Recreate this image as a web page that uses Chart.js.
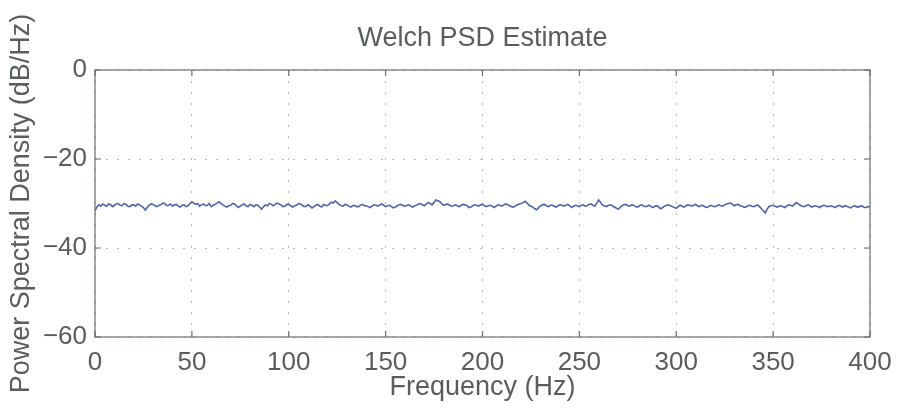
<!DOCTYPE html>
<html>
<head>
<meta charset="utf-8">
<title>Welch PSD Estimate</title>
<script src="https://cdn.jsdelivr.net/npm/chart.js@4/dist/chart.umd.min.js"></script>
<style>
  html, body { margin: 0; padding: 0; background: #ffffff; }
  #wrap { width: 899px; height: 408px; }
</style>
</head>
<body>
<div id="wrap"><canvas id="psdChart" width="899" height="408"></canvas></div>
<script>
/* data: one value per Hz, 0..400 */
const freqStep = 1;
const psdDb = [
  -31.6, -30.8, -30.3, -30.6, -30.1, -30.4, -30.6, -30.1, -30.2, -30.7, -30.4, -30.1, -30.0, -30.4, -30.5, -30.0, -30.2, -30.6, -30.7, -30.3,
  -30.3, -30.6, -30.1, -30.3, -30.6, -30.9, -31.5, -30.8, -30.4, -30.1, -30.2, -30.5, -30.7, -30.4, -30.3, -29.9, -30.0, -30.5, -30.4, -30.1,
  -30.6, -30.3, -30.2, -30.6, -30.8, -30.4, -30.3, -30.7, -30.5, -30.0, -29.6, -29.9, -30.2, -30.0, -30.6, -30.3, -30.1, -30.5, -30.4, -30.0,
  -30.7, -30.4, -30.2, -29.9, -29.6, -30.0, -30.3, -30.6, -30.8, -30.5, -30.4, -30.0, -30.1, -30.5, -30.9, -30.6, -30.3, -30.1, -30.5, -30.7,
  -30.2, -30.4, -30.7, -30.3, -30.4, -30.8, -31.3, -30.7, -30.3, -30.5, -30.0, -30.2, -30.5, -30.2, -29.9, -30.1, -30.3, -30.7, -30.6, -30.2,
  -30.2, -30.5, -30.8, -30.5, -30.4, -30.0, -30.1, -30.4, -30.7, -30.6, -30.3, -30.6, -31.0, -30.7, -30.4, -30.2, -30.6, -30.8, -30.2, -30.4,
  -30.5, -30.1, -29.7, -29.9, -29.4, -29.8, -30.2, -30.5, -30.6, -30.2, -30.3, -30.6, -30.8, -30.5, -30.4, -30.7, -30.7, -30.4, -30.2, -30.5,
  -30.5, -30.7, -30.9, -30.6, -30.3, -30.4, -30.6, -30.3, -30.1, -30.4, -30.7, -30.5, -30.4, -30.7, -31.0, -30.8, -30.5, -30.3, -30.2, -30.5,
  -30.6, -30.4, -30.3, -30.6, -30.8, -30.5, -30.4, -30.1, -30.0, -30.3, -30.5, -30.1, -29.8, -30.0, -30.3, -29.7, -29.2, -29.4, -29.6, -30.1,
  -30.4, -30.2, -30.1, -30.4, -30.6, -30.5, -30.3, -30.5, -30.7, -30.4, -30.2, -30.3, -30.5, -30.9, -30.8, -30.5, -30.3, -30.4, -30.6, -30.3,
  -30.2, -30.5, -30.7, -30.5, -30.4, -30.6, -30.9, -30.6, -30.3, -30.4, -30.6, -30.3, -30.1, -30.3, -30.5, -30.7, -30.8, -30.5, -30.3, -30.1,
  -30.0, -29.8, -29.5, -29.9, -30.4, -30.6, -30.8, -31.2, -31.4, -30.9, -30.5, -30.3, -30.2, -30.5, -30.7, -30.4, -30.4, -30.6, -30.8, -30.5,
  -30.3, -30.4, -30.6, -30.4, -30.2, -30.5, -30.9, -30.6, -30.4, -30.5, -30.7, -30.4, -30.3, -30.6, -30.5, -30.2, -30.1, -30.4, -30.6, -29.9,
  -29.2, -29.8, -30.4, -30.5, -30.7, -30.4, -30.3, -30.5, -30.8, -31.0, -31.3, -30.9, -30.5, -30.3, -30.2, -30.5, -30.6, -30.3, -30.4, -30.7,
  -30.8, -30.5, -30.3, -30.5, -30.7, -30.6, -30.4, -30.7, -30.9, -30.6, -30.5, -30.8, -31.2, -30.9, -30.6, -30.4, -30.3, -30.5, -30.7, -30.9,
  -31.1, -30.7, -30.4, -30.6, -30.8, -30.5, -30.3, -30.4, -30.6, -30.4, -30.2, -30.5, -30.7, -30.4, -30.5, -30.8, -30.9, -30.6, -30.4, -30.6,
  -30.7, -30.5, -30.3, -30.5, -30.6, -30.3, -30.1, -30.0, -29.9, -30.2, -30.5, -30.3, -30.2, -30.5, -30.6, -30.9, -30.8, -30.5, -30.4, -30.6,
  -30.7, -30.5, -30.3, -30.7, -31.2, -31.7, -32.1, -31.2, -30.6, -30.5, -30.4, -30.6, -30.8, -30.6, -30.5, -30.7, -30.9, -30.6, -30.3, -30.4,
  -30.6, -30.2, -29.8, -30.1, -30.4, -30.6, -30.7, -30.5, -30.3, -30.5, -30.8, -30.6, -30.5, -30.7, -30.9, -30.6, -30.4, -30.5, -30.7, -30.6,
  -30.5, -30.7, -30.9, -30.6, -30.4, -30.6, -30.8, -30.5, -30.6, -30.8, -31.0, -30.7, -30.5, -30.7, -30.8, -30.6, -30.6, -30.9, -30.9, -30.7,
  -30.7,
];
const xTicks = [0, 50, 100, 150, 200, 250, 300, 350, 400];
const yTicks = [0, -20, -40, -60];
const chartTitle = "Welch PSD Estimate";

const textColor = "#585e58";
const boxColor = "#667166";

const points = psdDb.map((value, i) => ({ x: i * freqStep, y: value }));

/* title centred over the axes, like MATLAB does */
const axesTitle = {
  id: "axesTitle",
  afterDraw(chart) {
    const ctx = chart.ctx;
    const area = chart.chartArea;

    ctx.save();
    ctx.fillStyle = textColor;
    ctx.font = "27px 'Liberation Sans'";
    ctx.textAlign = "center";
    ctx.textBaseline = "middle";
    ctx.fillText(chartTitle, (area.left + area.right) / 2, 39);
    ctx.restore();
  },
};

/* MATLAB style box with ticks pointing inward */
const axesBox = {
  id: "axesBox",
  afterDatasetsDraw(chart) {
    const ctx = chart.ctx;
    const area = chart.chartArea;
    const xScale = chart.scales.x;
    const yScale = chart.scales.y;
    const tickLen = 6;

    ctx.save();
    ctx.strokeStyle = boxColor;
    ctx.lineWidth = 1.2;
    ctx.strokeRect(area.left, area.top, area.right - area.left, area.bottom - area.top);

    ctx.beginPath();
    xTicks.forEach((value) => {
      const px = xScale.getPixelForValue(value);
      ctx.moveTo(px, area.bottom);
      ctx.lineTo(px, area.bottom - tickLen);
      ctx.moveTo(px, area.top);
      ctx.lineTo(px, area.top + tickLen);
    });
    yTicks.forEach((value) => {
      const py = yScale.getPixelForValue(value);
      ctx.moveTo(area.left, py);
      ctx.lineTo(area.left + tickLen, py);
      ctx.moveTo(area.right, py);
      ctx.lineTo(area.right - tickLen, py);
    });
    ctx.stroke();
    ctx.restore();
  },
};

const whiteBackground = {
  id: "whiteBackground",
  beforeDraw(chart) {
    const ctx = chart.ctx;
    ctx.save();
    ctx.fillStyle = "#ffffff";
    ctx.fillRect(0, 0, chart.width, chart.height);
    ctx.restore();
  },
};

const psdCanvas = document.getElementById("psdChart");

if (psdCanvas && typeof Chart !== "undefined") {
  new Chart(psdCanvas, {
    type: "line",
    data: {
      datasets: [
        {
          label: "PSD",
          data: points,
          borderColor: "#5063ad",
          borderWidth: 1.6,
          pointRadius: 0,
          tension: 0,
          fill: false,
        },
      ],
    },
    options: {
      responsive: false,
      animation: false,
      events: [],
      layout: {
        padding: { left: 0, right: 29, top: 70, bottom: 0 },
      },
      plugins: {
        legend: { display: false },
        tooltip: { enabled: false },
        title: { display: false },
      },
      scales: {
        x: {
          type: "linear",
          min: 0,
          max: 400,
          afterBuildTicks: (scale) => {
            scale.ticks = xTicks.map((v) => ({ value: v }));
          },
          afterFit: (scale) => {
            scale.height = 71;
            scale.paddingLeft = 0;
            scale.paddingRight = 0;
          },
          ticks: {
            color: textColor,
            font: { family: "Liberation Sans", size: 26 },
            padding: 10,
            maxRotation: 0,
            autoSkip: false,
          },
          grid: {
            color: "#b9b9b9",
            lineWidth: 1,
            drawTicks: false,
          },
          border: { display: false, dash: [2, 9] },
          title: {
            display: true,
            text: "Frequency (Hz)",
            color: textColor,
            font: { family: "Liberation Sans", size: 27 },
            padding: { top: 0, bottom: 4 },
          },
        },
        y: {
          type: "linear",
          min: -60,
          max: 0,
          afterBuildTicks: (scale) => {
            scale.ticks = yTicks.map((v) => ({ value: v }));
          },
          afterFit: (scale) => {
            scale.width = 95;
            scale.paddingTop = 0;
            scale.paddingBottom = 0;
          },
          ticks: {
            color: textColor,
            font: { family: "Liberation Sans", size: 26 },
            padding: 8,
            autoSkip: false,
            callback: function (value) {
              return value < 0 ? "\u2212" + Math.abs(value) : String(value);
            },
          },
          grid: {
            color: "#b9b9b9",
            lineWidth: 1,
            drawTicks: false,
          },
          border: { display: false, dash: [2, 9] },
          title: {
            display: true,
            text: "Power Spectral Density (dB/Hz)",
            color: textColor,
            font: { family: "Liberation Sans", size: 27 },
            padding: { top: 5, bottom: 0 },
          },
        },
      },
    },
    plugins: [whiteBackground, axesBox, axesTitle],
  });
}
</script>
</body>
</html>
